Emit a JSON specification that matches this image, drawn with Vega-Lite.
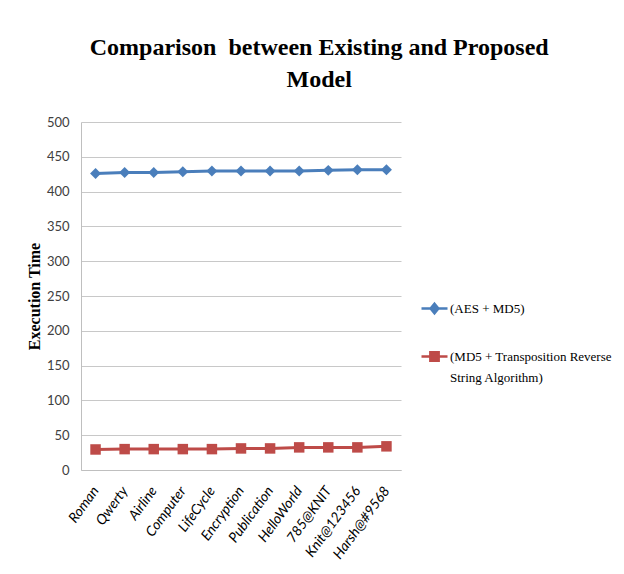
{
  "$schema": "https://vega.github.io/schema/vega-lite/v6.json",
  "width": 320,
  "height": 348,
  "autosize": {"type": "none"},
  "padding": {"left": 81, "top": 122, "right": 223, "bottom": 104},
  "background": "white",
  "title": {
    "text": ["Comparison\u00a0 between Existing and Proposed", "Model"],
    "font": "Liberation Serif",
    "fontSize": 24,
    "fontWeight": "bold",
    "color": "#000000",
    "lineHeight": 32,
    "anchor": "middle",
    "frame": "bounds",
    "offset": 24
  },
  "data": {
    "values": [
      {"name": "Roman", "series": "(AES + MD5)", "value": 426},
      {"name": "Qwerty", "series": "(AES + MD5)", "value": 427.5},
      {"name": "Airline", "series": "(AES + MD5)", "value": 427.5},
      {"name": "Computer", "series": "(AES + MD5)", "value": 428.5},
      {"name": "LifeCycle", "series": "(AES + MD5)", "value": 429.5},
      {"name": "Encryption", "series": "(AES + MD5)", "value": 429.5},
      {"name": "Publication", "series": "(AES + MD5)", "value": 429.5},
      {"name": "HelloWorld", "series": "(AES + MD5)", "value": 429.5},
      {"name": "785@KNIT", "series": "(AES + MD5)", "value": 430.5},
      {"name": "Knit@123456", "series": "(AES + MD5)", "value": 431.5},
      {"name": "Harsh@#9568", "series": "(AES + MD5)", "value": 431.5},
      {"name": "Roman", "series": "(MD5 + Transposition Reverse String Algorithm)", "value": 29.5},
      {"name": "Qwerty", "series": "(MD5 + Transposition Reverse String Algorithm)", "value": 30},
      {"name": "Airline", "series": "(MD5 + Transposition Reverse String Algorithm)", "value": 30},
      {"name": "Computer", "series": "(MD5 + Transposition Reverse String Algorithm)", "value": 30},
      {"name": "LifeCycle", "series": "(MD5 + Transposition Reverse String Algorithm)", "value": 30},
      {"name": "Encryption", "series": "(MD5 + Transposition Reverse String Algorithm)", "value": 31},
      {"name": "Publication", "series": "(MD5 + Transposition Reverse String Algorithm)", "value": 31},
      {"name": "HelloWorld", "series": "(MD5 + Transposition Reverse String Algorithm)", "value": 32.5},
      {"name": "785@KNIT", "series": "(MD5 + Transposition Reverse String Algorithm)", "value": 32.5},
      {"name": "Knit@123456", "series": "(MD5 + Transposition Reverse String Algorithm)", "value": 32.5},
      {"name": "Harsh@#9568", "series": "(MD5 + Transposition Reverse String Algorithm)", "value": 34}
    ]
  },
  "encoding": {
    "x": {
      "field": "name",
      "type": "nominal",
      "sort": null,
      "scale": {"type": "point", "padding": 0.5},
      "axis": {
        "title": null,
        "labelAngle": -54,
        "labelAlign": "right",
        "labelBaseline": "middle",
        "labelFont": "Lato",
        "labelFontStyle": "italic",
        "labelFontSize": 14,
        "labelColor": "#000000",
        "labelPadding": 18,
        "ticks": false,
        "grid": false,
        "domainColor": "#BFBFBF",
        "domainWidth": 1
      }
    },
    "y": {
      "field": "value",
      "type": "quantitative",
      "scale": {"domain": [0, 500], "nice": false, "zero": true},
      "axis": {
        "title": "Execution Time",
        "titleFont": "Liberation Serif",
        "titleFontWeight": "bold",
        "titleFontSize": 16,
        "titleColor": "#000000",
        "titlePadding": 4,
        "values": [0, 50, 100, 150, 200, 250, 300, 350, 400, 450, 500],
        "labelFont": "Lato",
        "labelFontSize": 13,
        "labelColor": "#404040",
        "labelPadding": 12,
        "ticks": false,
        "gridColor": "#C8C8C8",
        "gridWidth": 1,
        "domainColor": "#BFBFBF"
      }
    },
    "color": {
      "field": "series",
      "type": "nominal",
      "scale": {
        "domain": ["(AES + MD5)", "(MD5 + Transposition Reverse String Algorithm)"],
        "range": ["#4A7EBB", "#BE4B48"]
      },
      "legend": {
        "title": null,
        "orient": "none",
        "legendX": 339,
        "legendY": 172,
        "labelFont": "Liberation Serif",
        "labelFontSize": 13,
        "labelColor": "#000000",
        "labelLimit": 300,
        "labelOffset": 1,
        "rowPadding": 23,
        "symbolSize": 676,
        "symbolStrokeWidth": 2.5,
        "labelExpr": "datum.label == '(AES + MD5)' ? datum.label : ['(MD5 + Transposition Reverse', 'String Algorithm)']",
        "encode": {
          "labels": {
            "update": {
              "lineHeight": {"value": 21}
            }
          },
          "symbols": {
            "update": {
              "shape": {"signal": "datum.value == '(AES + MD5)' ? 'M-1,0L1,0M0,-0.36L0.3,0L0,0.36L-0.3,0Z' : 'M-1,0L1,0M-0.32,-0.32L0.32,-0.32L0.32,0.32L-0.32,0.32Z'"},
              "fill": {"signal": "scale('color', datum.value)"},
              "stroke": {"signal": "scale('color', datum.value)"},
              "strokeWidth": {"value": 2.5},
              "opacity": {"value": 1}
            }
          }
        }
      }
    }
  },
  "layer": [
    {"mark": {"type": "line", "strokeWidth": 3}},
    {
      "transform": [{"filter": "datum.series == '(AES + MD5)'"}],
      "mark": {"type": "point", "shape": "diamond", "filled": true, "opacity": 1, "size": 120}
    },
    {
      "transform": [{"filter": "datum.series != '(AES + MD5)'"}],
      "mark": {"type": "point", "shape": "square", "filled": true, "opacity": 1, "size": 110}
    }
  ],
  "config": {
    "view": {"stroke": null}
  }
}
